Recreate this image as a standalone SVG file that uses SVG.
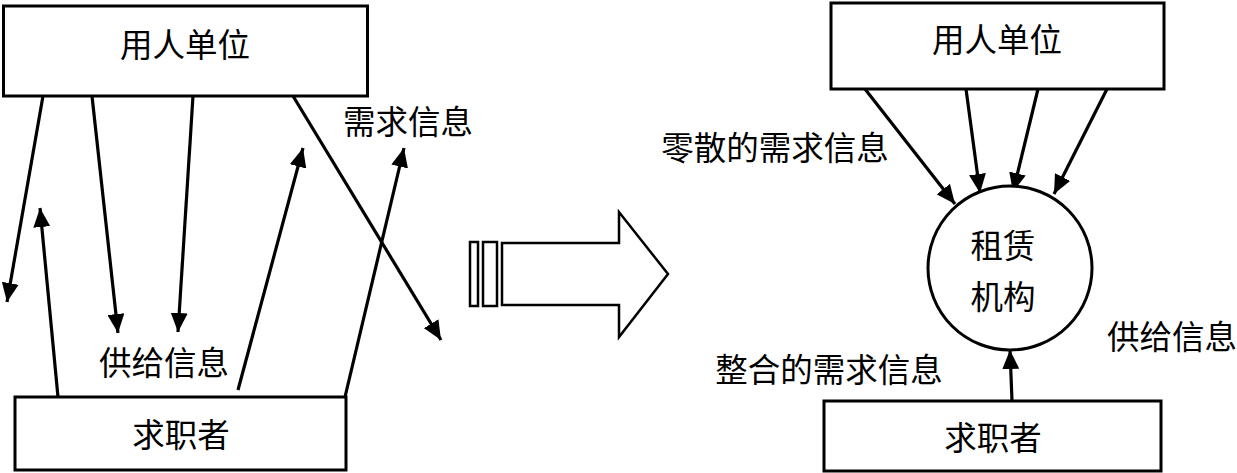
<svg xmlns="http://www.w3.org/2000/svg" width="1237" height="473" viewBox="0 0 1237 473">
<style>
.box{fill:#fff;stroke:#000;stroke-width:3}
.t{font-family:"Noto Sans CJK SC","Noto Sans",sans-serif;font-size:32.5px;fill:#000;text-anchor:middle}
.c{fill:none;stroke:#000;stroke-width:3.2;marker-end:url(#ah)}
.blk{fill:#fff;stroke:#000;stroke-width:2.5}
</style>
<defs>
<marker id="ah" viewBox="0 0 19 17" refX="19" refY="8.5" markerWidth="19" markerHeight="17" markerUnits="userSpaceOnUse" orient="auto">
<path d="M0,0 L19,8.5 L0,17 Z" fill="#000"/>
</marker>
</defs>
<rect width="1237" height="473" fill="#fff"/>
<g id="connectors">
<line class="c" x1="43" y1="96" x2="7" y2="302"/>
<line class="c" x1="58" y1="397" x2="40" y2="208"/>
<line class="c" x1="92" y1="96" x2="118" y2="333"/>
<line class="c" x1="193" y1="96" x2="178" y2="332"/>
<line class="c" x1="238" y1="390" x2="303" y2="148"/>
<line class="c" x1="293" y1="96" x2="441" y2="340"/>
<line class="c" x1="345" y1="397" x2="404" y2="148"/>
<line class="c" x1="865" y1="89" x2="955" y2="204"/>
<line class="c" x1="966" y1="89" x2="980" y2="193"/>
<line class="c" x1="1038" y1="89" x2="1013" y2="192"/>
<line class="c" x1="1107" y1="89" x2="1054" y2="194"/>
<line class="c" x1="1012" y1="401" x2="1010" y2="350"/>
</g>
<g id="left-employer">
<rect class="box" x="3.5" y="6" width="364" height="90"/>
<text class="t" x="185" y="57">用人单位</text>
</g>
<g id="left-seeker">
<rect class="box" x="15" y="397" width="331" height="73"/>
<text class="t" x="181" y="447">求职者</text>
</g>
<g id="left-labels">
<text class="t" x="408" y="134">需求信息</text>
<text class="t" x="164" y="375">供给信息</text>
</g>
<g id="transition-arrow">
<rect class="blk" x="470" y="242" width="8" height="64"/>
<rect class="blk" x="483" y="242" width="14" height="64"/>
<polygon class="blk" points="502,243 619,243 619,212 668,274 619,337 619,305 502,305"/>
</g>
<g id="right-employer">
<rect class="box" x="831" y="3" width="333" height="86"/>
<text class="t" x="997" y="52">用人单位</text>
</g>
<g id="agency">
<circle cx="1010" cy="268" r="82" fill="#fff" stroke="#000" stroke-width="3"/>
<text class="t" x="1003" y="258">租赁</text>
<text class="t" x="1003" y="309">机构</text>
</g>
<g id="right-seeker">
<rect class="box" x="824" y="401" width="337" height="70"/>
<text class="t" x="993" y="450">求职者</text>
</g>
<g id="right-labels">
<text class="t" x="775" y="160">零散的需求信息</text>
<text class="t" x="829" y="382">整合的需求信息</text>
<text class="t" x="1172" y="349">供给信息</text>
</g>
</svg>
